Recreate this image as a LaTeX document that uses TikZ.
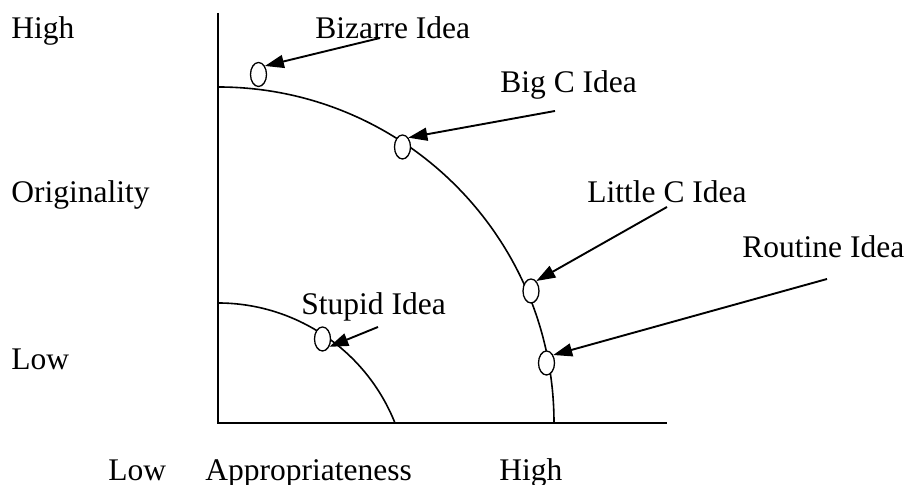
\documentclass[tikz,border=0pt]{standalone}
\usepackage{fontspec}
\setmainfont{Liberation Serif}
\usetikzlibrary{shapes.geometric,arrows.meta}
\tikzset{
  lbl/.style={anchor=base west,inner sep=0pt,font=\fontsize{15.75}{18}\selectfont},
  idea/.style={draw,ellipse,inner sep=0pt,minimum width=8pt,minimum height=12pt,line width=0.65pt,fill=white},
  axis/.style={line width=1pt},
  curve/.style={line width=0.8pt},
  pointer/.style={line width=0.95pt,-{Triangle[length=9.5pt,width=6.5pt]}}
}
\begin{document}
\begin{tikzpicture}[x=0.5pt,y=0.5pt]
\useasboundingbox (0,0) rectangle (906,485);
% axes
\coordinate (top) at (218,472);
\coordinate (origin) at (218,62);
\coordinate (right) at (667,62);
\draw[axis] (top) -- (origin) -- (right);
% curves
\draw[curve] (218,398) arc[start angle=90,end angle=0,radius=336];
\draw[curve] (218,182) arc[start angle=90,end angle=21.7,radius=190.5];
% ideas
\node[idea] (biz) at (258.5,410.5) {};
\node[idea] (bigc) at (402.5,338) {};
\node[idea] (littlec) at (531,194) {};
\node[idea] (routine) at (546.5,122) {};
\node[idea] (stupid) at (322.5,146) {};
% labels
\node[lbl] (yhigh) at (11,446) {High};
\node[lbl] (ytitle) at (11,282) {Originality};
\node[lbl] (ylow) at (11,115) {Low};
\node[lbl] (xlow) at (108,4) {Low};
\node[lbl] (xtitle) at (205,4) {Appropriateness};
\node[lbl] (xhigh) at (499,4) {High};
\node[lbl] (lbiz) at (315,446) {Bizarre Idea};
\node[lbl] (lbigc) at (500,392) {Big C Idea};
\node[lbl] (llittlec) at (587,282) {Little C Idea};
\node[lbl] (lroutine) at (742,227) {Routine Idea};
\node[lbl] (lstupid) at (301,170) {Stupid Idea};
% arrow starts
\coordinate (sbiz) at (380,447);
\coordinate (sbigc) at (555,374);
\coordinate (slittlec) at (667,278);
\coordinate (sroutine) at (827,206);
\coordinate (sstupid) at (378,158);
\draw[pointer] (sbiz) -- (biz.53);
\draw[pointer] (sbigc) -- (bigc.58);
\draw[pointer] (slittlec) -- (littlec.62);
\draw[pointer] (sroutine) -- (routine.50);
\draw[pointer] (sstupid) -- (stupid.-49);
\end{tikzpicture}
\end{document}
